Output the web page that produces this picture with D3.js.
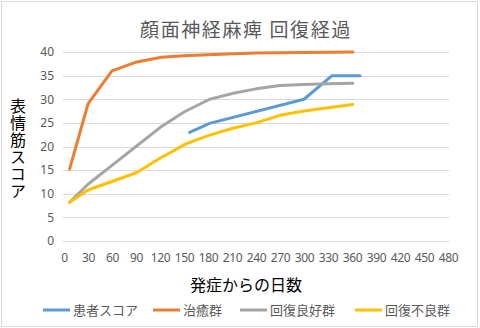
<!DOCTYPE html>
<html><head><meta charset="utf-8">
<script src="https://cdn.jsdelivr.net/npm/d3@7"></script>
<style>body{margin:0;background:#fff}svg{display:block}</style>
</head><body>
<svg id="c" width="480" height="328"></svg>
<script>
const xTicks = [0,30,60,90,120,150,180,210,240,270,300,330,360,390,420,450,480];
const yTicks = [0,5,10,15,20,25,30,35,40];
const seriesNames = ["患者スコア","治癒群","回復良好群","回復不良群"];
const seriesColors = ["#5b9bd5","#ed7d31","#a5a5a5","#ffc000"];
const patient = [[157,23],[182,24.9],[300,30],[335,35],[370,35]];
const cured = [[7,15.2],[30,29],[60,36],[91,37.9],[122,38.9],[150,39.2],[180,39.4],[240,39.8],[300,39.9],[361,40]];
const good = [[7,8.2],[30,12],[60,16],[90,20],[120,24],[150,27.3],[182,30],[210,31.2],[240,32.2],[270,32.9],[300,33.1],[330,33.3],[361,33.4]];
const poor = [[7,8.2],[30,10.8],[60,12.6],[91,14.5],[120,17.5],[153,20.6],[182,22.4],[210,23.8],[240,25],[270,26.6],[300,27.5],[330,28.2],[361,28.9]];
const allSeries = [patient, cured, good, poor];

const svg = d3.select("#c");
svg.append("rect").attr("x",1.5).attr("y",1.5).attr("width",476).attr("height",325)
  .attr("fill","#fff").attr("stroke","#d9d9d9");

const x = d3.scaleLinear().domain([0,480]).range([64,448]);
const y = d3.scaleLinear().domain([0,40]).range([241,52]);

// gridlines
svg.append("g").selectAll("line").data(yTicks).join("line")
  .attr("x1",63).attr("x2",449).attr("y1",d=>Math.round(y(d))+0.5).attr("y2",d=>Math.round(y(d))+0.5)
  .attr("stroke","#d9d9d9").attr("stroke-width",1);

// y axis labels
const yAxis = d3.axisLeft(y).tickValues(yTicks).tickSize(0).tickPadding(0);
const gy = svg.append("g").attr("transform","translate(54,0)").call(yAxis);
gy.select(".domain").remove();
gy.selectAll("text").attr("fill","#595959").style("font-family","'Noto Sans','DejaVu Sans',sans-serif").style("font-size","12px");

// x axis labels
const xAxis = d3.axisBottom(x).tickValues(xTicks).tickSize(0).tickPadding(0);
const gx = svg.append("g").attr("transform","translate(0,253)").call(xAxis);
gx.select(".domain").remove();
gx.selectAll("text").attr("fill","#595959").style("font-family","'Noto Sans','DejaVu Sans',sans-serif").style("font-size","12px").style("letter-spacing","-0.3px");

// lines
const line = d3.line().x(d=>x(d[0])).y(d=>y(d[1]));
svg.append("g").selectAll("path").data(allSeries).join("path")
  .attr("d",line).attr("fill","none")
  .attr("stroke",(d,i)=>seriesColors[i]).attr("stroke-width",3)
  .attr("stroke-linejoin","round").attr("stroke-linecap","round");

// title
svg.append("text").attr("x",246).attr("y",37).attr("text-anchor","middle")
  .attr("fill","#595959").style("font-family","'Noto Sans CJK JP',sans-serif").style("font-size","19px")
  .style("letter-spacing","1.6px")
  .text("顔面神経麻痺 回復経過");

// y title vertical
svg.append("text").attr("x",18).attr("y",98)
  .attr("fill","#000").style("font-family","'Noto Sans CJK JP',sans-serif").style("font-size","16px")
  .style("writing-mode","vertical-rl").style("text-orientation","upright").style("letter-spacing","1px")
  .text("表情筋スコア");

// x title
svg.append("text").attr("x",246).attr("y",291).attr("text-anchor","middle")
  .attr("fill","#000").style("font-family","'Noto Sans CJK JP',sans-serif").style("font-size","16px")
  .text("発症からの日数");

// legend
const legX = [43,153,240,355];
const lg = svg.append("g").selectAll("g").data(seriesNames).join("g")
  .attr("transform",(d,i)=>`translate(${legX[i]},310)`);
lg.append("line").attr("x1",0).attr("x2",27).attr("y1",0).attr("y2",0)
  .attr("stroke",(d,i)=>seriesColors[i]).attr("stroke-width",3);
lg.append("text").attr("x",30).attr("y",5).attr("fill","#595959")
  .style("font-family","'Noto Sans CJK JP',sans-serif").style("font-size","13px").text(d=>d);
</script>
</body></html>
